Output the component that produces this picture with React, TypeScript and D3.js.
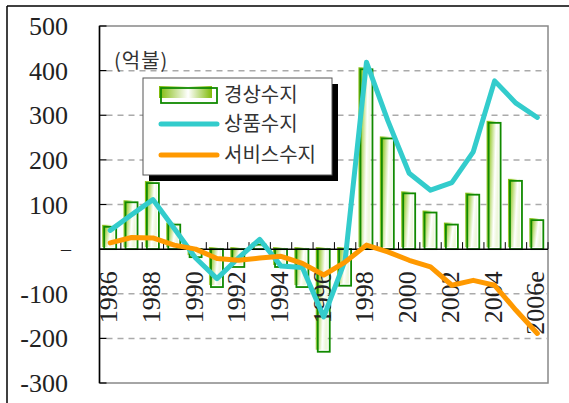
import React from "react";
import * as d3 from "d3";

const years = [
  "1986", "1987", "1988", "1989", "1990", "1991", "1992", "1993", "1994", "1995",
  "1996", "1997", "1998", "1999", "2000", "2001", "2002", "2003", "2004", "2005", "2006e",
];
// 경상수지 (bars)
const currentAccount = [50, 105, 148, 55, -18, -85, -40, 10, -40, -85, -230, -82, 403, 248, 125, 82, 55, 122, 283, 153, 65];
// 상품수지 (cyan line)
const goodsBalance = [42, 77, 111, 46, -20, -66, -20, 22, -38, -41, -152, -25, 419, 288, 170, 132, 149, 218, 377, 327, 295];
// 서비스수지 (orange line)
const servicesBalance = [14, 26, 25, 9, 0, -21, -25, -20, -16, -32, -58, -29, 9, -6, -25, -40, -81, -70, -81, -137, -189];

const yTicks = [500, 400, 300, 200, 100, 0, -100, -200, -300];
const gridValues = [400, 300, 200, 100, -100, -200];
const labelYears = ["1986", "1988", "1990", "1992", "1994", "1996", "1998", "2000", "2002", "2004", "2006e"];

const legendItems = ["경상수지", "상품수지", "서비스수지"];

const W = 569;
const H = 403;
const plot = { left: 99.5, right: 548, top: 26, bottom: 383 };

const App = () => {
  const y = d3.scaleLinear().domain([-300, 500]).range([plot.bottom, plot.top]);
  const step = (plot.right - plot.left) / years.length;
  const cx = (i: number) => plot.left + step * (i + 0.5);
  const bw = 12;

  const line = d3
    .line<number>()
    .x((_, i) => cx(i))
    .y((d) => y(d));

  const korean = "Noto Sans CJK KR";
  const serif = "Liberation Serif";

  return (
    <svg
      width={W}
      height={H}
      style={{ position: "absolute", left: 0, top: 0, background: "#fff" }}
    >
      <defs>
        <linearGradient id="barGrad" x1="0" y1="0" x2="1" y2="0.3">
          <stop offset="0" stopColor="#7fba08" />
          <stop offset="0.25" stopColor="#98cb30" />
          <stop offset="0.75" stopColor="#ffffff" />
          <stop offset="1" stopColor="#eef7dc" />
        </linearGradient>
        <linearGradient id="legGrad" x1="0" y1="0" x2="1" y2="0">
          <stop offset="0" stopColor="#7fba08" />
          <stop offset="0.55" stopColor="#ffffff" />
          <stop offset="1" stopColor="#7fba08" />
        </linearGradient>
      </defs>

      {/* outer frame: only top and left visible */}
      <line x1={7} y1={6} x2={W} y2={6} stroke="#000" strokeWidth={1.5} />
      <line x1={7} y1={6} x2={7} y2={H} stroke="#000" strokeWidth={1.5} />

      {/* plot frame */}
      <rect
        x={plot.left}
        y={plot.top}
        width={plot.right - plot.left}
        height={plot.bottom - plot.top}
        fill="none"
        stroke="#888"
        strokeWidth={1.5}
      />

      {/* gridlines */}
      {gridValues.map((v) => (
        <line
          key={v}
          x1={plot.left + 7}
          x2={plot.right}
          y1={y(v)}
          y2={y(v)}
          stroke="#aaa"
          strokeWidth={1.5}
          strokeDasharray="6 5"
        />
      ))}

      {/* y axis */}
      <line x1={plot.left} x2={plot.left} y1={plot.top} y2={plot.bottom} stroke="#000" strokeWidth={1.5} />
      {yTicks.map((v) => (
        <g key={v}>
          <line x1={plot.left} x2={plot.left + 7} y1={y(v)} y2={y(v)} stroke="#000" strokeWidth={1.2} />
          <text
            x={v === 0 ? 71 : 68}
            y={y(v)}
            dy="0.35em"
            textAnchor="end"
            fontFamily={serif}
            fontSize={v === 0 ? 20 : 26}
            fill="#222"
          >
            {v === 0 ? "–" : v < 0 ? `-${Math.abs(v)}` : v}
          </text>
        </g>
      ))}

      {/* bars */}
      {currentAccount.map((v, i) => {
        const x0 = cx(i) - bw / 2;
        const top = y(Math.max(0, v));
        const h = Math.abs(y(v) - y(0));
        return (
          <g key={years[i]}>
            <rect x={x0 - 2} y={top - 2} width={bw} height={h} fill="url(#barGrad)" />
            <rect x={x0} y={top} width={bw} height={h} fill="none" stroke="#118a00" strokeWidth={1.8} />
          </g>
        );
      })}

      {/* zero axis with upward ticks */}
      <line x1={plot.left} x2={plot.right} y1={y(0)} y2={y(0)} stroke="#000" strokeWidth={1.5} />
      {d3.range(1, years.length + 1).map((k) => (
        <line
          key={k}
          x1={plot.left + k * step}
          x2={plot.left + k * step}
          y1={y(0)}
          y2={y(0) - 7}
          stroke="#000"
          strokeWidth={1}
        />
      ))}

      {/* x labels */}
      {years.map((yr, i) =>
        labelYears.includes(yr) ? (
          <text
            key={yr}
            transform={`translate(${cx(i) + 7},${y(0) + 22}) rotate(-90)`}
            textAnchor="end"
            fontFamily={serif}
            fontSize={26}
            fill="#222"
          >
            {yr}
          </text>
        ) : null
      )}

      {/* lines */}
      <path d={line(goodsBalance) || ""} fill="none" stroke="#33cccc" strokeWidth={5} strokeLinejoin="round" strokeLinecap="round" />
      <path d={line(servicesBalance) || ""} fill="none" stroke="#ff9900" strokeWidth={5} strokeLinejoin="round" strokeLinecap="round" />

      {/* unit label */}
      <text x={114} y={61} dy="0.35em" fontFamily={korean} fontSize={20} letterSpacing={1} fill="#333">
        (억불)
      </text>

      {/* legend */}
      <g>
        <rect x={149} y={84} width={189} height={97} fill="#000" />
        <rect x={143} y={78} width={189} height={97} fill="#fff" stroke="#555" strokeWidth={1} />
        <rect x={159} y={86} width={53} height={12} fill="url(#legGrad)" />
        <rect x={161} y={88} width={56} height={15} fill="none" stroke="#118a00" strokeWidth={1.8} />
        <line x1={161} x2={217} y1={124} y2={124} stroke="#33cccc" strokeWidth={5} strokeLinecap="round" />
        <line x1={161} x2={217} y1={155} y2={155} stroke="#ff9900" strokeWidth={5} strokeLinecap="round" />
        {legendItems.map((t, i) => (
          <text
            key={t}
            x={224}
            y={[95, 124, 155][i]}
            dy="0.35em"
            fontFamily={korean}
            fontSize={20}
            fill="#333"
          >
            {t}
          </text>
        ))}
      </g>
    </svg>
  );
};

export default App;
